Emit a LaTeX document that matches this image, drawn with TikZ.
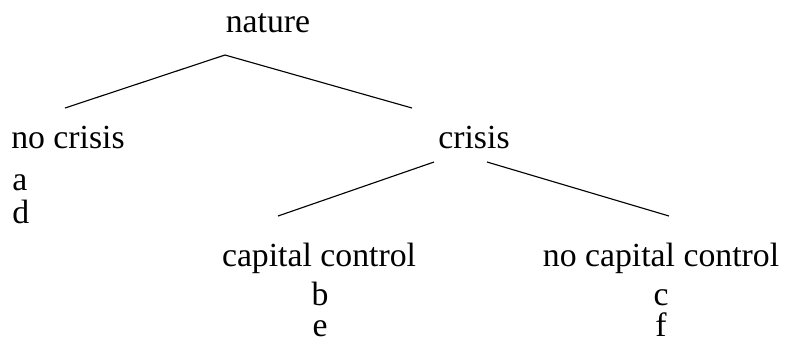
\documentclass[tikz,border=0pt]{standalone}
\usepackage{fontspec}
\setmainfont{Liberation Serif}
\begin{document}
\begin{tikzpicture}[x=0.025cm,y=-0.025cm,
  lbl/.style={inner sep=0pt, anchor=base, font=\fontsize{24}{29}\selectfont},
  lblw/.style={lbl, anchor=base west},
  branch/.style={line width=0.8pt}]
\useasboundingbox (0,0) rectangle (786,345);
\node[lbl] (nature) at (268,32) {nature};
\node[lblw] (nocrisis) at (11,148) {no crisis};
\node[lblw] (a) at (12,190) {a};
\node[lblw] (d) at (12,223) {d};
\node[lbl] (crisis) at (474,148) {crisis};
\node[lbl] (cc) at (319,266) {capital control};
\node[lbl] (b) at (320,305) {b};
\node[lbl] (e) at (320,336) {e};
\node[lbl] (ncc) at (661,266) {no capital control};
\node[lbl] (c) at (661,305) {c};
\node[lbl] (f) at (661,336) {f};
\coordinate (top) at (225,55);
\coordinate (endnc) at (65,108);
\coordinate (endc) at (412,108);
\coordinate (midl) at (434,162);
\coordinate (midr) at (487,162);
\coordinate (endcc) at (278,216);
\coordinate (endncc) at (669,216);
\draw[branch] (top) -- (endnc);
\draw[branch] (top) -- (endc);
\draw[branch] (midl) -- (endcc);
\draw[branch] (midr) -- (endncc);
\end{tikzpicture}
\end{document}
